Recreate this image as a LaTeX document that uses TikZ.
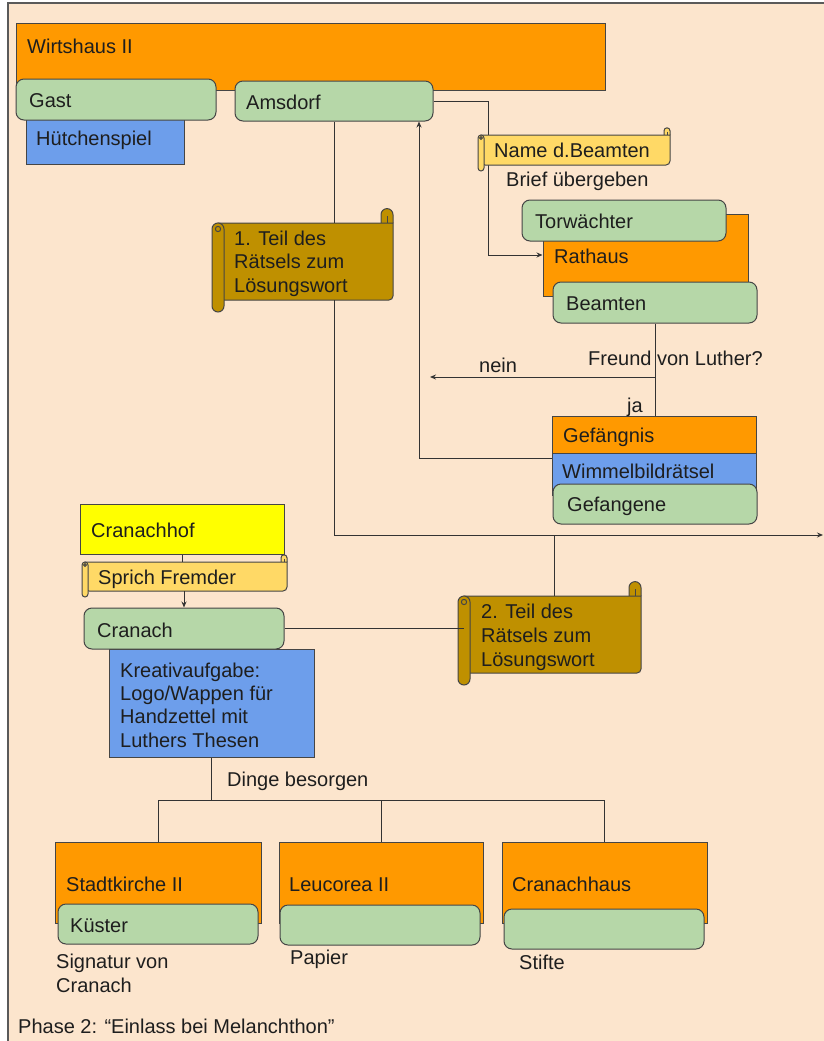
\documentclass[tikz,border=0pt]{standalone}
\usepackage{fontspec}
\setmainfont{Liberation Sans}
\usetikzlibrary{fit,arrows.meta}
\definecolor{bgC}{HTML}{FCE5CD}
\definecolor{orangeC}{HTML}{FF9900}
\definecolor{greenC}{HTML}{B6D7A8}
\definecolor{blueC}{HTML}{6D9EEB}
\definecolor{yellowC}{HTML}{FFFF00}
\definecolor{goldC}{HTML}{BF9000}
\definecolor{lyellowC}{HTML}{FFD966}
\definecolor{bordC}{HTML}{454545}
\definecolor{lineC}{HTML}{333333}
\definecolor{txtC}{HTML}{1E1E1E}
\definecolor{frameC}{HTML}{5A5A5A}
\tikzset{
  box/.style={draw=bordC, line width=1pt, inner sep=0pt},
  orangebox/.style={box, fill=orangeC},
  greenbox/.style={box, fill=greenC, rounded corners=8pt},
  bluebox/.style={box, fill=blueC},
  yellowbox/.style={box, fill=yellowC},
  lbl/.style={anchor=base west, inner sep=0pt, text=txtC},
  conn/.style={draw=lineC, line width=1pt},
  arr/.style={conn, -{Stealth[length=6pt,width=5pt]}},
}
\newcommand\bx[6]{\node[#2, fit={(#3,#4) (#5,#6)}] (#1) {};}
\newcommand\mylbl[4]{\node[lbl] (#1) at (#2,#3) {#4};}
\newcommand\scrollbox[7]{%
  \pgfmathsetlengthmacro\scrR{#7*0.5pt}%
  \pgfmathsetlengthmacro\scrQ{#7*0.22pt}%
  \draw[box, fill=#2, rounded corners=\scrR] ({#5-#7},#4) -- ({#5-#7},{#4-1.2*#7}) -- (#5,{#4-1.2*#7}) -- (#5,#4);
  \draw[box, fill=#2] ({#3+#7/2},#4) -- (#5,#4) [rounded corners=4pt] -- (#5,#6) -- ({#3+#7/2},#6) [sharp corners] -- cycle;
  \draw[box] ({#5-#7/2},{#4-0.55*#7}) -- ({#5-#7/2},#4);
  \draw[box, fill=#2, rounded corners=\scrR] (#3,#4) rectangle ({#3+#7},{#6+#7});
  \draw[box] ({#3+#7/2},{#4+#7/2}) circle[radius=\scrQ];
  \node[fit={({#3+#7/2},#4) (#5,#6)}, inner sep=0pt] (#1) {};
}
\begin{document}
\begin{tikzpicture}[x=1pt, y=-1pt, font=\fontsize{20}{24}\selectfont]
\useasboundingbox (0,0) rectangle (823,1041);
\fill[white] (0,0) rectangle (823,1041);
\draw[draw=frameC, line width=1.5pt, fill=bgC] (8,3) rectangle (850,1060);

% boxes
\bx{wirts}{orangebox}{16}{24}{605}{90}
\bx{hutchen}{bluebox}{26}{112}{184}{164}
\bx{gast}{greenbox}{16}{79}{216}{120}
\bx{amsdorf}{greenbox}{235}{81}{433}{121}
\bx{rathaus}{orangebox}{543}{214}{748}{296}
\bx{torw}{greenbox}{522}{200}{726}{241}
\bx{beamten}{greenbox}{553}{282}{757}{323}
\bx{gefaengnis}{orangebox}{552}{416}{756}{453}
\bx{wimmel}{bluebox}{552}{453}{756}{495}
\bx{gefangene}{greenbox}{553}{484}{757}{524}
\bx{cranachhof}{yellowbox}{80}{504}{284}{554}
\bx{kreativ}{bluebox}{109}{649}{314}{757}
\bx{cranach}{greenbox}{84}{608}{284}{649}
\bx{stadt}{orangebox}{55}{842}{261}{923}
\bx{kuester}{greenbox}{58}{904}{258}{944}
\bx{leuc}{orangebox}{279}{842}{483}{923}
\bx{leucg}{greenbox}{280}{905}{480}{945}
\bx{chaus}{orangebox}{502}{842}{707}{923}
\bx{chausg}{greenbox}{504}{909}{704}{949}

% scrolls referenced by connectors
\scrollbox{s1}{goldC}{212}{223}{393}{300}{12}
\scrollbox{s2}{goldC}{458}{596}{641}{673}{12}
\scrollbox{sprich}{lyellowC}{82}{562}{287}{591}{6}

% helper coordinates
\coordinate (endR) at (823,535);
\coordinate (j2) at (554,535);
\coordinate (k1) at (488,255);
\coordinate (q) at (655,377);
\coordinate (neinEnd) at (430,377);
\coordinate (y458) at (0,458);
\coordinate (x419) at (419,0);
\coordinate (bar) at (0,800);

% connectors
\draw[conn] (amsdorf.south) -- (amsdorf.south |- s1.north);
\draw[arr] (amsdorf.south |- s1.south) |- (endR);
\draw[conn] (j2) -- (j2 |- s2.north);
\draw[conn] (cranach.east) -- (cranach.east -| s2.west);
\draw[arr] (amsdorf.east) -| (k1) -- (rathaus.west);
\draw[conn] (beamten.south) -- (beamten.south |- gefaengnis.north);
\draw[arr] (q) -- (neinEnd);
\draw[arr] (wimmel.west |- y458) -| (x419 |- amsdorf.south);
\draw[conn] (cranachhof.south) -- (cranachhof.south |- sprich.north);
\draw[arr] (cranach.north |- sprich.south) -- (cranach.north);
\draw[conn] (kreativ.south) -- (kreativ.south |- bar);
\draw[conn] (stadt.north) |- (chaus.north |- bar) -- (chaus.north);
\draw[conn] (leuc.north) -- (leuc.north |- bar);

% scroll drawn over a connector
\scrollbox{nameb}{lyellowC}{478}{135}{670}{165}{6}

% labels
\mylbl{wirts-t}{27}{53}{Wirtshaus II}
\mylbl{gast-t}{29}{107}{Gast}
\mylbl{ams-t}{246}{109}{Amsdorf}
\mylbl{hut-t}{36}{145}{Hütchenspiel}
\mylbl{s1-a}{234}{245}{1. Teil des}
\mylbl{s1-b}{234}{268.5}{Rätsels zum}
\mylbl{s1-c}{234}{292}{Lösungswort}
\mylbl{nameb-t}{494}{157}{Name d.Beamten}
\mylbl{brief}{506}{186}{Brief übergeben}
\mylbl{torw-t}{535}{228}{Torwächter}
\mylbl{rath-t}{554}{263}{Rathaus}
\mylbl{beam-t}{566}{310}{Beamten}
\mylbl{freund}{588}{365}{Freund von Luther?}
\mylbl{nein}{479}{372}{nein}
\mylbl{ja}{627}{412}{ja}
\mylbl{gef-t}{563}{442}{Gefängnis}
\mylbl{wim-t}{562}{478}{Wimmelbildrätsel}
\mylbl{gefa-t}{567}{511}{Gefangene}
\mylbl{cranhof-t}{91}{537}{Cranachhof}
\mylbl{sprich-t}{98}{584}{Sprich Fremder}
\mylbl{cran-t}{97}{637}{Cranach}
\mylbl{kr-a}{120}{677}{Kreativaufgabe:}
\mylbl{kr-b}{120}{700}{Logo/Wappen für}
\mylbl{kr-c}{120}{723.5}{Handzettel mit}
\mylbl{kr-d}{120}{747}{Luthers Thesen}
\mylbl{s2-a}{481}{618}{2. Teil des}
\mylbl{s2-b}{481}{642}{Rätsels zum}
\mylbl{s2-c}{481}{666}{Lösungswort}
\mylbl{dinge}{227}{786}{Dinge besorgen}
\mylbl{stadt-t}{66}{891}{Stadtkirche II}
\mylbl{leuc-t}{289}{891}{Leucorea II}
\mylbl{chaus-t}{512}{891}{Cranachhaus}
\mylbl{kuest-t}{70}{932}{Küster}
\mylbl{sig-a}{56}{968}{Signatur von}
\mylbl{sig-b}{56}{992}{Cranach}
\mylbl{papier}{290}{964}{Papier}
\mylbl{stifte}{519}{969}{Stifte}
\mylbl{phase}{18}{1033}{Phase 2: “Einlass bei Melanchthon”}
\end{tikzpicture}
\end{document}
